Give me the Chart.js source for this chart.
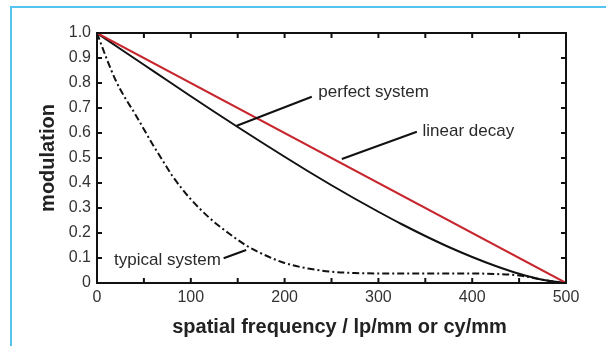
<!DOCTYPE html>
<html>
<head>
<meta charset="utf-8">
<script src="https://cdn.jsdelivr.net/npm/chart.js@4.4.1/dist/chart.umd.min.js"></script>
<style>
  html, body { margin: 0; padding: 0; background: #fff; }
  #wrap { position: relative; width: 606px; height: 346px; }
  #frame { position: absolute; left: 10px; top: 6px; width: 596px; height: 340px;
           border-top: 2px solid #55c5ef; border-left: 2px solid #55c5ef; box-sizing: border-box; }
  canvas { position: absolute; left: 0; top: 0; }
</style>
</head>
<body>
<div id="wrap">
  <canvas id="chart" width="606" height="346"></canvas>
  <div id="frame"></div>
</div>
<script>
// values
const freqPerfect = [0, 500];
const perfectLine = [1.0, 0.0];

const freqDiffraction = [0, 25, 50, 75, 100, 125, 150, 175, 200, 225, 250, 275, 300, 325, 350, 375, 400, 425, 450, 475, 500];
const diffraction = [1.0, 0.936, 0.873, 0.81, 0.747, 0.685, 0.624, 0.564, 0.505, 0.447, 0.391, 0.337, 0.285, 0.235, 0.188, 0.144, 0.104, 0.068, 0.037, 0.013, 0.0];

const freqTypical = [0, 10, 20, 30, 40, 50, 60, 70, 80, 90, 100, 120, 140, 160, 180, 200, 225, 250, 275, 300, 350, 400, 425, 450, 475, 490, 500];
const typical = [1.0, 0.9, 0.81, 0.74, 0.68, 0.615, 0.55, 0.49, 0.43, 0.38, 0.335, 0.26, 0.2, 0.148, 0.11, 0.08, 0.058, 0.045, 0.04, 0.038, 0.038, 0.038, 0.036, 0.03, 0.013, 0.004, 0.0];

const xTitle = 'spatial frequency / lp/mm or cy/mm';

// annotation labels: text, anchor (data units), leader line from/to (data units)
const notes = [
  { text: 'perfect system', at: [236, 0.764], align: 'left', from: [149, 0.629], to: [229, 0.745] },
  { text: 'linear decay', at: [347, 0.608], align: 'left', from: [261, 0.496], to: [341, 0.605] },
  { text: 'typical system', at: [132, 0.092], align: 'right', from: [159, 0.132], to: [135, 0.099] },
];

const FONT = '"Liberation Sans", Arial, sans-serif';
const toPts = (xs, ys) => xs.map((x, i) => ({ x, y: ys[i] }));

const frameAndTicks = {
  id: 'frameAndTicks',
  afterDatasetsDraw(chart) {
    const { ctx, chartArea: a, scales: { x, y } } = chart;
    ctx.save();
    ctx.strokeStyle = '#111';
    ctx.lineWidth = 2;
    ctx.strokeRect(a.left, a.top, a.right - a.left, a.bottom - a.top);
    const len = 5;
    ctx.beginPath();
    x.ticks.forEach(t => {
      const px = x.getPixelForValue(t.value);
      ctx.moveTo(px, a.bottom); ctx.lineTo(px, a.bottom - len);
      ctx.moveTo(px, a.top); ctx.lineTo(px, a.top + len);
    });
    y.ticks.forEach(t => {
      const py = y.getPixelForValue(t.value);
      ctx.moveTo(a.left, py); ctx.lineTo(a.left + len, py);
      ctx.moveTo(a.right, py); ctx.lineTo(a.right - len, py);
    });
    ctx.stroke();

    // labels with leader lines
    ctx.font = '17px ' + FONT;
    ctx.fillStyle = '#2a2a2a';
    ctx.textBaseline = 'middle';
    ctx.lineWidth = 2;
    notes.forEach(n => {
      ctx.textAlign = n.align;
      ctx.fillText(n.text, x.getPixelForValue(n.at[0]), y.getPixelForValue(n.at[1]));
      ctx.beginPath();
      ctx.moveTo(x.getPixelForValue(n.from[0]), y.getPixelForValue(n.from[1]));
      ctx.lineTo(x.getPixelForValue(n.to[0]), y.getPixelForValue(n.to[1]));
      ctx.stroke();
    });

    // x axis title, sits a little right of the plot centre in the original
    ctx.font = 'bold 20px ' + FONT;
    ctx.fillStyle = '#222';
    ctx.textAlign = 'center';
    ctx.fillText(xTitle, (a.left + a.right) / 2 + 8, a.bottom + 44);
    ctx.restore();
  }
};

const ctx = document.getElementById('chart').getContext('2d');
new Chart(ctx, {
  type: 'line',
  data: {
    datasets: [
      {
        label: 'perfect',
        data: toPts(freqPerfect, perfectLine),
        borderColor: '#c8262e',
        borderWidth: 2,
        pointRadius: 0,
      },
      {
        label: 'diffraction',
        data: toPts(freqDiffraction, diffraction),
        borderColor: '#111',
        borderWidth: 2,
        pointRadius: 0,
        cubicInterpolationMode: 'monotone',
      },
      {
        label: 'typical',
        data: toPts(freqTypical, typical),
        borderColor: '#111',
        borderWidth: 2,
        borderDash: [7, 3, 2, 3],
        pointRadius: 0,
        cubicInterpolationMode: 'monotone',
      },
    ],
  },
  plugins: [frameAndTicks],
  options: {
    responsive: false,
    animation: false,
    layout: { padding: { left: 0, top: 33, right: 40, bottom: 0 } },
    plugins: { legend: { display: false }, tooltip: { enabled: false } },
    scales: {
      x: {
        type: 'linear',
        min: 0,
        max: 500,
        afterFit(s) { s.height = 63; },
        grid: { display: false, drawTicks: false },
        border: { display: false },
        ticks: {
          stepSize: 50,
          padding: 5,
          maxRotation: 0,
          autoSkip: false,
          color: '#333',
          font: { family: FONT, size: 16 },
          callback: v => (v % 100 === 0 ? String(v) : ''),
        },
      },
      y: {
        min: 0,
        max: 1,
        afterFit(s) { s.width = 97; },
        grid: { display: false, drawTicks: false },
        border: { display: false },
        ticks: {
          stepSize: 0.1,
          padding: 6,
          autoSkip: false,
          color: '#333',
          font: { family: FONT, size: 16 },
          callback: v => (v === 0 ? '0' : v.toFixed(1)),
        },
        title: {
          display: true,
          text: 'modulation',
          color: '#222',
          font: { family: FONT, size: 20, weight: 'bold' },
          padding: { top: 36, bottom: 0 },
        },
      },
    },
  },
});
</script>
</body>
</html>
